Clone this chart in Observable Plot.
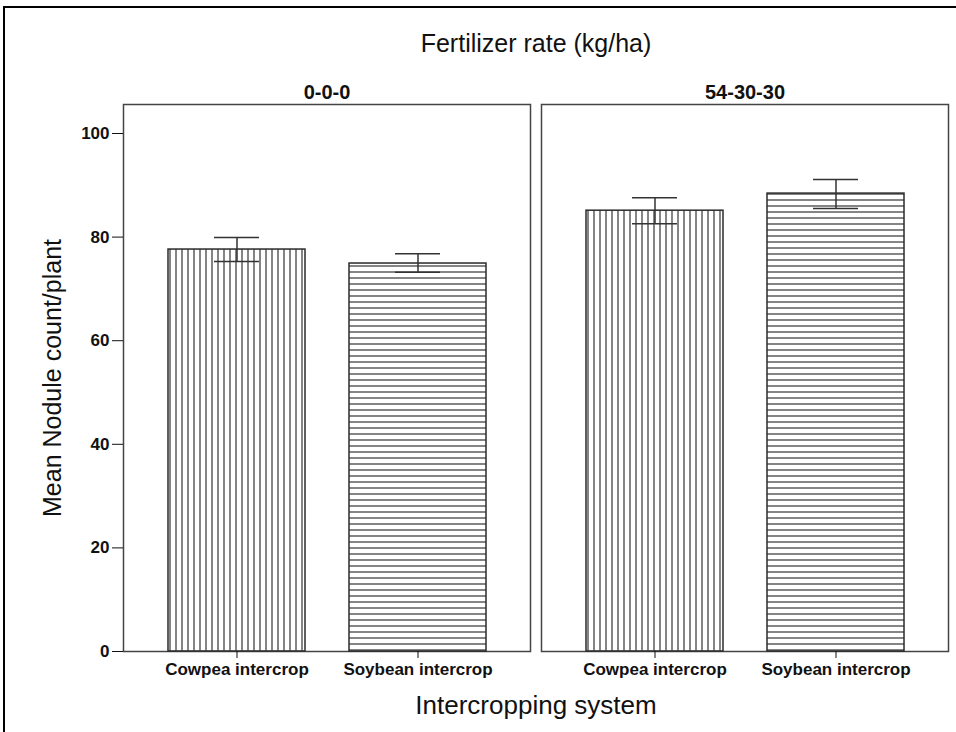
<!DOCTYPE html>
<html><head><meta charset="utf-8">
<script src="https://cdn.jsdelivr.net/npm/d3@7"></script>
<script src="https://cdn.jsdelivr.net/npm/@observablehq/plot@0.6"></script>
<style>
html,body{margin:0;padding:0;overflow:hidden;background:#fff;width:956px;height:732px}
#frame{position:absolute;left:3px;top:6px;width:975px;height:760px;border:2px solid #000;box-sizing:border-box;pointer-events:none}
#chart{position:absolute;left:0;top:0}
#chart svg [aria-label="x-axis tick label"] text{font-weight:bold;font-size:17px}
#chart svg [aria-label="y-axis tick label"] text{font-weight:bold;font-size:17px}
#chart svg [aria-label="fx-axis tick label"] text{font-weight:bold;font-size:20px}
#chart svg [aria-label="fx-axis label"] text{font-weight:normal;font-size:25px}
#chart svg [aria-label="x-axis label"] text{font-weight:normal;font-size:26px}
#chart svg [aria-label="y-axis label"] text{font-weight:normal;font-size:25px}
</style></head><body>
<svg width="0" height="0" style="position:absolute"><defs>
<pattern id="vstripe" patternUnits="userSpaceOnUse" width="6" height="6"><rect x="1" y="0" width="2" height="6" fill="#858585"/></pattern>
<pattern id="hstripe" patternUnits="userSpaceOnUse" width="6" height="6"><rect x="0" y="1" width="6" height="2" fill="#858585"/></pattern>
</defs></svg>
<div id="chart"></div><div id="frame"></div>
<script>
const rates = ["0-0-0", "0-0-0", "54-30-30", "54-30-30"];
const systems = ["Cowpea intercrop", "Soybean intercrop", "Cowpea intercrop", "Soybean intercrop"];
const means = [77.6, 74.9, 85.1, 88.4];
const lowers = [75.3, 73.2, 82.6, 85.5];
const uppers = [79.9, 76.8, 87.6, 91.1];
const yTicks = [0, 20, 40, 60, 80, 100];
const yMax = 105.6;
const rateDomain = ["0-0-0", "54-30-30"];
const systemDomain = ["Cowpea intercrop", "Soybean intercrop"];
const patterns = ["url(#vstripe)", "url(#hstripe)"];

const data = means.map((m, i) => ({rate: rates[i], system: systems[i], mean: m, lower: lowers[i], upper: uppers[i]}));

const barMarks = systemDomain.map((s, k) =>
  Plot.barY(data.filter(d => d.system === s), {fx: "rate", x: "system", y: "mean", fill: patterns[k], stroke: "#2b2b2b", strokeWidth: 1.5})
);

const chart = Plot.plot({
  width: 956, height: 732,
  marginLeft: 123, marginRight: 7, marginTop: 104, marginBottom: 81,
  style: {fontFamily: "'Liberation Sans', Arial, sans-serif", fontSize: "17px", color: "#111", background: "transparent", overflow: "visible"},
  fx: {domain: rateDomain, paddingInner: 0.026, paddingOuter: 0, label: "Fertilizer rate (kg/ha)"},
  x: {domain: systemDomain, padding: 0.245, label: "Intercropping system"},
  y: {domain: [0, yMax], ticks: yTicks, label: "Mean Nodule count/plant"},
  marks: [
    Plot.frame({stroke: "#444", strokeWidth: 1.5}),
    ...barMarks,
    Plot.ruleX(data, {fx: "rate", x: "system", y1: "lower", y2: "upper", stroke: "#333", strokeWidth: 1.5}),
    Plot.tickY(data, {fx: "rate", x: "system", y: "upper", stroke: "#333", strokeWidth: 1.5, insetLeft: 46, insetRight: 46}),
    Plot.tickY(data, {fx: "rate", x: "system", y: "lower", stroke: "#333", strokeWidth: 1.5, insetLeft: 46, insetRight: 46}),
    Plot.axisFx({anchor: "top", tickSize: 0, tickPadding: 6, label: "Fertilizer rate (kg/ha)", labelAnchor: "center", labelOffset: 70}),
    Plot.axisX({anchor: "bottom", tickSize: 7, tickPadding: 4, label: "Intercropping system", labelAnchor: "center", labelOffset: 62}),
    Plot.axisY({anchor: "left", ticks: yTicks, tickFormat: "d", tickSize: 11, tickPadding: 3, label: "Mean Nodule count/plant", labelAnchor: "center", labelOffset: 80, labelArrow: false})
  ]
});
document.getElementById("chart").appendChild(chart);
</script>
</body></html>
